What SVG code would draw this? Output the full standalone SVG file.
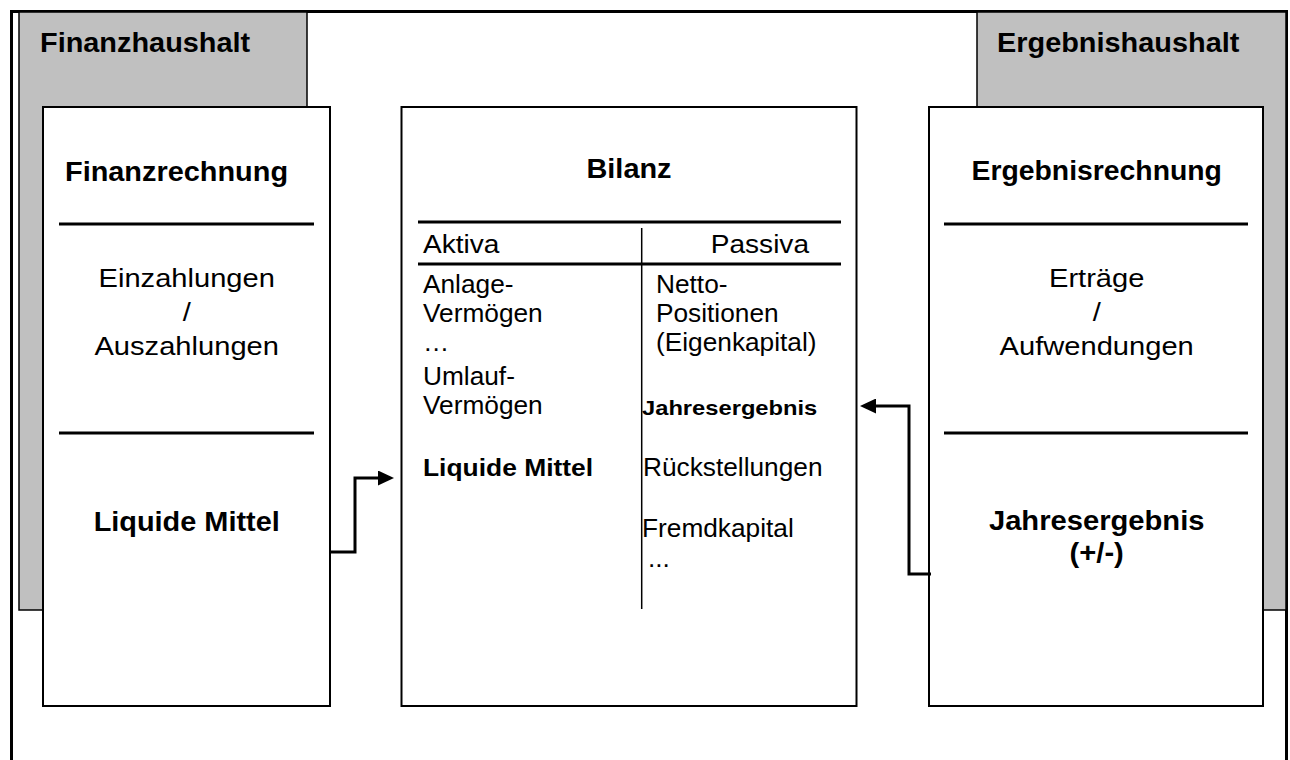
<svg xmlns="http://www.w3.org/2000/svg" width="1290" height="760" viewBox="0 0 1290 760">
<style>
text{font-family:"Liberation Sans",Arial,sans-serif;fill:#000}
.b{font-weight:bold}
.hd{font-size:27px;font-weight:bold}
.sd{font-size:26px}
.bz{font-size:25.5px}
.panel{fill:#c0c0c0;stroke:#000;stroke-width:1.5}
.box{fill:#fff;stroke:#000;stroke-width:2}
.sep{stroke:#000;stroke-width:3}
.conn{fill:none;stroke:#000;stroke-width:3}
</style>
<defs>
<marker id="arr" viewBox="0 0 16 15" refX="0" refY="7.5" markerWidth="16" markerHeight="15" markerUnits="userSpaceOnUse" orient="auto">
<path d="M0,0 L16,7.5 L0,15 z" fill="#000"/>
</marker>
</defs>
<rect width="1290" height="760" fill="#fff"/>
<g id="frame">
<path d="M11.5,762 V11.5 H1286.5 V762" fill="none" stroke="#000" stroke-width="3"/>
</g>
<g id="finanzhaushalt">
<rect class="panel" x="19" y="12" width="288" height="598"/>
<text class="hd" transform="translate(40,52) scale(1.07,1)">Finanzhaushalt</text>
</g>
<g id="ergebnishaushalt">
<rect class="panel" x="977" y="12" width="309" height="598"/>
<text class="hd" transform="translate(997,52) scale(1.07,1)">Ergebnishaushalt</text>
</g>
<g id="finanzrechnung">
<rect class="box" x="43" y="107" width="287" height="599"/>
<text class="hd" text-anchor="middle" transform="translate(176.5,181) scale(1.07,1)">Finanzrechnung</text>
<line class="sep" x1="59" y1="224" x2="314" y2="224"/>
<text class="sd" text-anchor="middle" transform="translate(186.7,287) scale(1.12,1)">Einzahlungen</text>
<text class="sd" text-anchor="middle" transform="translate(186.7,321) scale(1.12,1)">/</text>
<text class="sd" text-anchor="middle" transform="translate(186.7,355) scale(1.12,1)">Auszahlungen</text>
<line class="sep" x1="59" y1="433" x2="314" y2="433"/>
<text class="hd" text-anchor="middle" transform="translate(186.7,531) scale(1.07,1)">Liquide Mittel</text>
</g>
<g id="bilanz">
<rect class="box" x="401.5" y="107" width="455" height="599"/>
<text class="hd" text-anchor="middle" transform="translate(629,178) scale(1.07,1)">Bilanz</text>
<line class="sep" x1="418" y1="222" x2="841" y2="222"/>
<line class="sep" x1="418" y1="264" x2="841" y2="264"/>
<line x1="641.7" y1="228" x2="641.7" y2="609" stroke="#000" stroke-width="1.5"/>
<text class="bz" transform="translate(423,253) scale(1.1,1)">Aktiva</text>
<text class="bz" text-anchor="end" transform="translate(809,253) scale(1.1,1)">Passiva</text>
<text class="bz" transform="translate(423,293) scale(1.03,1)">Anlage-</text>
<text class="bz" transform="translate(423,322) scale(1.03,1)">Vermögen</text>
<text class="bz" transform="translate(423,351) scale(1.03,1)">…</text>
<text class="bz" transform="translate(423,385) scale(1.03,1)">Umlauf-</text>
<text class="bz" transform="translate(423,414) scale(1.03,1)">Vermögen</text>
<text class="b" font-size="24" transform="translate(423,476) scale(1.1,1)">Liquide Mittel</text>
<text class="bz" transform="translate(656,293) scale(1.03,1)">Netto-</text>
<text class="bz" transform="translate(656,322) scale(1.03,1)">Positionen</text>
<text class="bz" transform="translate(656,351) scale(1.03,1)">(Eigenkapital)</text>
<text class="b" font-size="21" transform="translate(642,415) scale(1.13,1)">Jahresergebnis</text>
<text class="bz" transform="translate(643,476) scale(1.03,1)">Rückstellungen</text>
<text class="bz" transform="translate(642,537) scale(1.03,1)">Fremdkapital</text>
<text class="bz" transform="translate(648,567) scale(1.03,1)">...</text>
</g>
<g id="ergebnisrechnung">
<rect class="box" x="929" y="107" width="334" height="599"/>
<text class="hd" text-anchor="middle" transform="translate(1096.7,180) scale(1.05,1)">Ergebnisrechnung</text>
<line class="sep" x1="944" y1="224" x2="1248" y2="224"/>
<text class="sd" text-anchor="middle" transform="translate(1096.7,287) scale(1.12,1)">Erträge</text>
<text class="sd" text-anchor="middle" transform="translate(1096.7,321) scale(1.12,1)">/</text>
<text class="sd" text-anchor="middle" transform="translate(1096.7,355) scale(1.12,1)">Aufwendungen</text>
<line class="sep" x1="944" y1="433" x2="1248" y2="433"/>
<text class="hd" text-anchor="middle" transform="translate(1096.7,530) scale(1.08,1)">Jahresergebnis</text>
<text class="hd" text-anchor="middle" transform="translate(1096.7,562) scale(1.08,1)">(+/-)</text>
</g>
<g id="connectors">
<path class="conn" d="M331,552 H355 V478 H378" marker-end="url(#arr)"/>
<path class="conn" d="M931,574 H909 V406 H876" marker-end="url(#arr)"/>
</g>
</svg>
